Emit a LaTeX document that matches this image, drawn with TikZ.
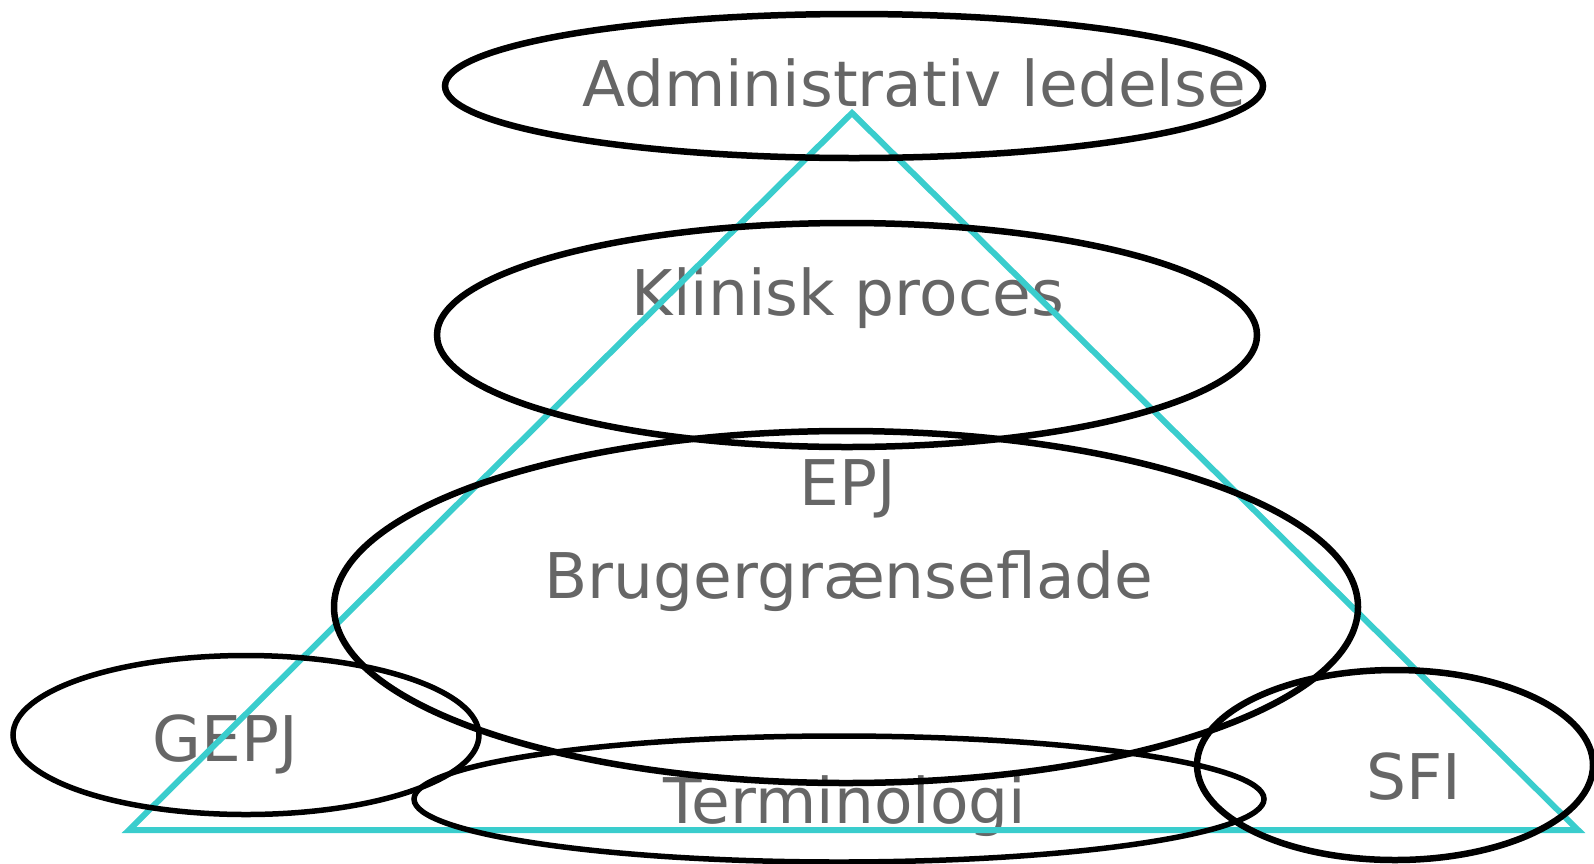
\documentclass[tikz,border=0pt]{standalone}
\usepackage{fontspec}
\setmainfont{DejaVu Sans}
\usetikzlibrary{shapes.geometric}
\definecolor{triteal}{RGB}{58,205,205}
\definecolor{labelgray}{RGB}{102,102,102}
\begin{document}
\begin{tikzpicture}[x=1pt,y=-1pt,
  ring/.style={draw=black,line width=6.5pt,ellipse,inner sep=0pt},
  thinring/.style={ring,line width=5.5pt},
  lbl/.style={anchor=base,text=labelgray,inner sep=0pt,font=\fontsize{63}{75}\selectfont}]
\useasboundingbox (0,0) rectangle (1594,863);

  \node[lbl] (admtxt) at (914,106) {Administrativ ledelse};
  \node[lbl] (klintxt) at (848,315) {Klinisk proces};
  \node[lbl] (epjtxt) at (848,505) {EPJ};
  \node[lbl] (brugtxt) at (849,598) {Brugergrænseflade};
  \node[lbl] (gepjtxt) at (225,761) {GEPJ};
  \node[lbl] (termtxt) at (845,823) {Terminologi};
  \node[lbl] (sfitxt) at (1414,799) {SFI};

  \coordinate (apex) at (852,113);
  \coordinate (bleft) at (129,830);
  \coordinate (bright) at (1578,830);
  \draw[triteal,line width=6pt] (apex) -- (bleft) -- (bright) -- cycle;

  \node[ring,minimum width=818pt,minimum height=144pt] (adm) at (854,86) {};
  \node[ring,minimum width=820pt,minimum height=224pt] (klin) at (847,335) {};
  \node[ring,minimum width=1024pt,minimum height=352pt] (epj) at (846,607) {};
  \node[thinring,minimum width=466pt,minimum height=159pt] (gepj) at (246,735) {};
  \node[thinring,minimum width=850pt,minimum height=126pt] (term) at (839,799) {};
  \node[ring,minimum width=396pt,minimum height=190pt] (sfi) at (1395,765) {};
\end{tikzpicture}
\end{document}
